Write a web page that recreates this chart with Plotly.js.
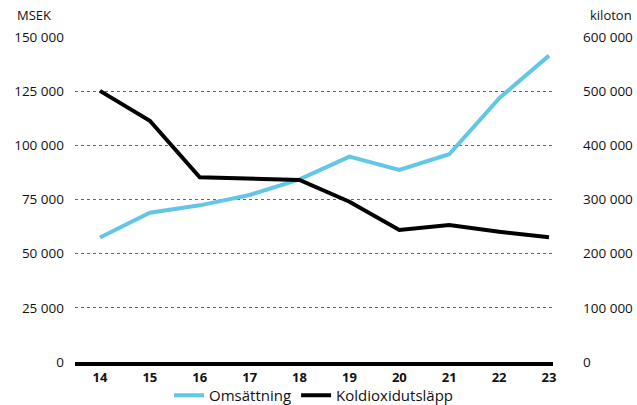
<!DOCTYPE html>
<html><head><meta charset="utf-8">
<script src="https://cdn.plot.ly/plotly-3.0.1.min.js"></script>
<style>body{margin:0;padding:0;background:#fff}#c{width:637px;height:405px}</style>
</head><body><div id="c"></div>
<script>
var years = [14, 15, 16, 17, 18, 19, 20, 21, 22, 23];
var omsattning = [57500, 68900, 72300, 77100, 84300, 94800, 88600, 95900, 121700, 141400];
var koldioxid = [500500, 445500, 341000, 339000, 336000, 296000, 243700, 252900, 240600, 230200];
var leftTicks = [0, 25000, 50000, 75000, 100000, 125000, 150000];
var rightTicks = [0, 100000, 200000, 300000, 400000, 500000, 600000];
var font = "Open Sans, Noto Sans, sans-serif";

var traces = [
  {x: years, y: omsattning, name: "Omsättning", type: "scatter", mode: "lines",
   line: {color: "#62c6e6", width: 4}, yaxis: "y"},
  {x: years, y: koldioxid, name: "Koldioxidutsläpp", type: "scatter", mode: "lines",
   line: {color: "#000000", width: 4}, yaxis: "y2"}
];

var layout = {
  width: 637, height: 405,
  margin: {l: 75, r: 84, t: 37, b: 43},
  paper_bgcolor: "#fff", plot_bgcolor: "#fff",
  separators: ", ",
  font: {family: font, size: 13, color: "#111"},
  showlegend: true,
  legend: {orientation: "h", x: 0.5, xanchor: "center", yref: "container", y: 0, yanchor: "bottom",
           bgcolor: "rgba(0,0,0,0)",
           font: {size: 15, color: "#111"}, itemwidth: 30, traceorder: "normal"},
  xaxis: {range: [13.5, 23.08], tickvals: years, ticktext: years.map(String),
          showgrid: false, zeroline: false, showline: true, linecolor: "#000", linewidth: 4,
          ticks: "", tickfont: {size: 13, color: "#111", weight: "bold"}, fixedrange: true},
  yaxis: {range: [0, 150000], tickvals: leftTicks, tickformat: ",d",
          showgrid: true, gridcolor: "#666", griddash: "dot", gridwidth: 1,
          zeroline: false, ticks: "", ticklabelstandoff: 10, showline: false,
          tickfont: {size: 13.5, color: "#111"}},
  yaxis2: {range: [0, 600000], tickvals: rightTicks, tickformat: ",d", overlaying: "y", side: "right",
           showgrid: false, zeroline: false, ticks: "", ticklabelstandoff: 29, showline: false,
           tickfont: {size: 13.5, color: "#111"}},
  annotations: [
    {xref: "paper", yref: "paper", x: -0.125, y: 1.035, xanchor: "left", yanchor: "bottom",
     text: "MSEK", showarrow: false, font: {size: 13, color: "#111"}},
    {xref: "paper", yref: "paper", x: 1.17, y: 1.035, xanchor: "right", yanchor: "bottom",
     text: "kiloton", showarrow: false, font: {size: 13, color: "#111"}}
  ]
};
Plotly.newPlot("c", traces, layout, {displayModeBar: false, staticPlot: true}).then(function(){
  // nudge legend group down to sit below tick labels
  var lg = document.querySelector(".legend");
  if (lg) {
    var t = lg.getAttribute("transform") || "";
    var m = t.match(/translate\(([-\d.]+),\s*([-\d.]+)\)/);
    if (m) lg.setAttribute("transform", "translate(" + m[1] + "," + (parseFloat(m[2]) + 7) + ")");
  }
});
</script></body></html>
